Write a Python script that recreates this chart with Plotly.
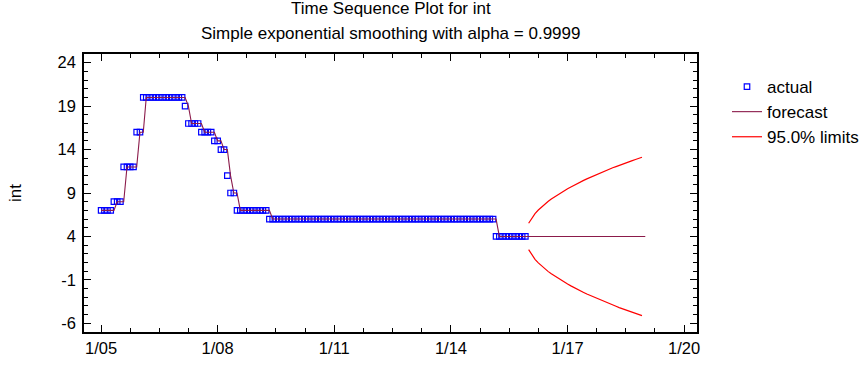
import pandas as pd
import plotly.graph_objects as go

# ---- data ----
actual = [7, 7, 7, 7,
          8, 8, 8,
          12, 12, 12, 12,
          16, 16,
          20, 20, 20, 20, 20, 20, 20, 20, 20, 20, 20, 20, 20,
          19,
          17, 17, 17, 17,
          16, 16, 16, 16,
          15, 15,
          14, 14,
          11,
          9, 9,
          7, 7, 7, 7, 7, 7, 7, 7, 7, 7,
          6, 6, 6, 6, 6, 6, 6, 6, 6, 6, 6, 6, 6, 6, 6, 6, 6, 6, 6, 6,
          6, 6, 6, 6, 6, 6, 6, 6, 6, 6, 6, 6, 6, 6, 6, 6, 6, 6, 6, 6,
          6, 6, 6, 6, 6, 6, 6, 6, 6, 6, 6, 6, 6, 6, 6, 6, 6, 6, 6, 6,
          6, 6, 6, 6, 6, 6, 6, 6, 6, 6,
          4, 4, 4, 4, 4, 4, 4, 4, 4, 4]

forecast = [7, 7, 7, 7, 7,
            8, 8, 8,
            12, 12, 12, 12,
            16, 16,
            20, 20, 20, 20, 20, 20, 20, 20, 20, 20, 20, 20, 20,
            19,
            17, 17, 17, 17,
            16, 16, 16, 16,
            15, 15,
            14, 14,
            11,
            9, 9,
            7, 7, 7, 7, 7, 7, 7, 7, 7, 7,
            6, 6, 6, 6, 6, 6, 6, 6, 6, 6, 6, 6, 6, 6, 6, 6, 6, 6, 6, 6,
            6, 6, 6, 6, 6, 6, 6, 6, 6, 6, 6, 6, 6, 6, 6, 6, 6, 6, 6, 6,
            6, 6, 6, 6, 6, 6, 6, 6, 6, 6, 6, 6, 6, 6, 6, 6, 6, 6, 6, 6,
            6, 6, 6, 6, 6, 6, 6, 6, 6, 6,
            4, 4, 4, 4, 4, 4, 4, 4, 4,
            4, 4, 4, 4, 4, 4, 4, 4, 4, 4, 4, 4, 4, 4, 4, 4, 4, 4,
            4, 4, 4, 4, 4, 4, 4, 4, 4, 4, 4, 4, 4, 4, 4, 4, 4, 4, 4]

upper = [5.52, 6.15, 6.63, 7.04, 7.40, 7.72, 8.02, 8.30, 8.56, 8.81, 9.04, 9.27,
         9.48, 9.69, 9.89, 10.08, 10.27, 10.45, 10.63, 10.80, 10.97, 11.13, 11.29, 11.45,
         11.60, 11.75, 11.90, 12.04, 12.19, 12.33, 12.46, 12.60, 12.73, 12.86, 12.99, 13.12]
lower = [2.48, 1.85, 1.37, 0.96, 0.60, 0.28, -0.02, -0.30, -0.56, -0.81, -1.04, -1.27,
         -1.48, -1.69, -1.89, -2.08, -2.27, -2.45, -2.63, -2.80, -2.97, -3.13, -3.29, -3.45,
         -3.60, -3.75, -3.90, -4.04, -4.19, -4.33, -4.46, -4.60, -4.73, -4.86, -4.99, -5.12]

start_month = "2005-01-01"
dates_actual = pd.date_range(start_month, periods=len(actual), freq="MS")
dates_fc = pd.date_range(start_month, periods=len(forecast), freq="MS")
dates_lim = dates_fc[len(actual):]

y_ticks = [-6, -1, 4, 9, 14, 19, 24]
y_tick_labels = ["-6", "-1", "4", "9", "14", "19", "24"]

title_line1 = "Time Sequence Plot for int"
title_line2 = "Simple exponential smoothing with alpha = 0.9999"
y_title = "int"

FONT = "Liberation Sans, Arial, sans-serif"

fig = go.Figure()
fig.add_trace(go.Scatter(
    x=dates_actual, y=actual, mode="markers", name="actual",
    marker=dict(symbol="square-open", size=5.5, color="#0000FF", line=dict(width=1.2)),
))
fig.add_trace(go.Scatter(
    x=dates_fc, y=forecast, mode="lines", name="forecast",
    line=dict(color="#8B1A4A", width=1.1),
))
fig.add_trace(go.Scatter(
    x=dates_lim, y=upper, mode="lines", name="95.0% limits",
    line=dict(color="#FF0000", width=1.2),
))
fig.add_trace(go.Scatter(
    x=dates_lim, y=lower, mode="lines", name="95.0% limits", showlegend=False,
    line=dict(color="#FF0000", width=1.2),
))

axis_common = dict(
    showline=True, linecolor="black", linewidth=1.5, mirror="allticks",
    ticks="inside", ticklen=7, tickwidth=1.2, tickcolor="black",
    showgrid=False, zeroline=False,
    tickfont=dict(family=FONT, size=16.5, color="black"),
)

L, R, T, B = 84, 697, 54, 332
H = B - T
W = R - L

fig.update_layout(
    width=866, height=365,
    margin=dict(l=L, r=866 - R, t=T, b=365 - B, autoexpand=False),
    paper_bgcolor="white", plot_bgcolor="white",
    font=dict(family=FONT, size=16, color="black"),
    xaxis=dict(
        **axis_common,
        type="date",
        range=["2004-07-24", "2020-05-01"],
        tick0="2005-01-01", dtick="M36", tickformat="%-m/%y",
        minor=dict(ticks="inside", ticklen=4, tickcolor="black", dtick="M9", tick0="2005-01-01", showgrid=False),
    ),
    yaxis=dict(
        **axis_common,
        range=[-7, 25],
        tickvals=y_ticks, ticktext=y_tick_labels,
        ticklabelstandoff=3,
        minor=dict(ticks="inside", ticklen=4, tickcolor="black", dtick=1, tick0=0, showgrid=False),
    ),
    legend=dict(
        x=(727 - L) / W, y=(B - 69) / H, xanchor="left", yanchor="top",
        font=dict(family=FONT, size=17, color="black"),
        bgcolor="rgba(0,0,0,0)", tracegroupgap=0, itemwidth=30,
    ),
    showlegend=True,
    annotations=[
        dict(text=title_line1, xref="paper", yref="paper", x=0.5, y=(B - 9) / H,
             xanchor="center", yanchor="middle", showarrow=False,
             font=dict(family=FONT, size=17, color="black")),
        dict(text=title_line2, xref="paper", yref="paper", x=0.5, y=(B - 33) / H,
             xanchor="center", yanchor="middle", showarrow=False,
             font=dict(family=FONT, size=17, color="black")),
        dict(text=y_title, xref="paper", yref="paper", x=(15 - L) / W, y=0.5,
             xanchor="center", yanchor="middle", textangle=-90, showarrow=False,
             font=dict(family=FONT, size=17, color="black")),
    ],
)

fig.write_html("out.html")
